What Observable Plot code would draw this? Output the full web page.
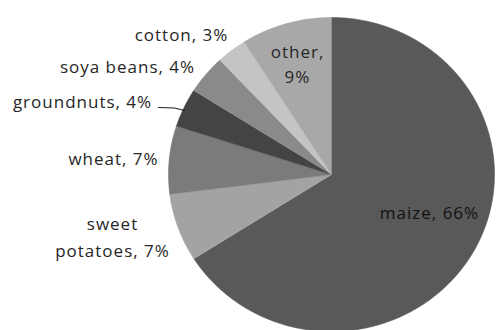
<!DOCTYPE html>
<html>
<head>
<meta charset="utf-8">
<script src="https://cdn.jsdelivr.net/npm/d3@7"></script>
<script src="https://cdn.jsdelivr.net/npm/@observablehq/plot@0.6"></script>
<style>
  html, body { margin: 0; padding: 0; background: #fff; }
  #chart svg text { letter-spacing: 1px; }
</style>
</head>
<body>
<div id="chart"></div>
<script>
// ---- data ----
const crops = ["maize", "sweet potatoes", "wheat", "groundnuts", "soya beans", "cotton", "other"];
const shares = [66, 7, 7, 4, 4, 3, 9];
const sliceColors = ["#595959", "#a3a3a3", "#7b7b7b", "#444444", "#8a8a8a", "#c4c4c4", "#a8a8a8"];

// ---- label annotations (pixel layout) ----
const labelLines = [["maize, 66%"], ["sweet", "potatoes, 7%"], ["wheat, 7%"], ["groundnuts, 4%"], ["soya beans, 4%"], ["cotton, 3%"], ["other,", "9%"]];
const labelX = [429, 112, 113, 82, 127, 181, 297];
const labelY = [213, 224, 159, 102, 67, 35, 52];
const lineGap = [25, 27, 25, 25, 25, 25, 25];

// pie layout
const W = 497, H = 330;
const cx = 331, cy = 174, rx = 163, ry = 157;

const total = d3.sum(shares);
const pts = [];
let acc = 0;
crops.forEach((name, i) => {
  const a0 = acc / total * 2 * Math.PI;
  acc += shares[i];
  const a1 = acc / total * 2 * Math.PI;
  pts.push({name, x: cx, y: cy});
  const n = Math.max(2, Math.ceil((a1 - a0) / (Math.PI / 180)));
  for (let k = 0; k <= n; k++) {
    const a = a0 + (a1 - a0) * k / n;
    pts.push({name, x: cx + rx * Math.sin(a), y: cy - ry * Math.cos(a)});
  }
});

const labels = [];
labelLines.forEach((lines, i) => {
  lines.forEach((t, j) => labels.push({text: t, x: labelX[i], y: labelY[i] + j * lineGap[i], dark: i === 0}));
});

const leader = [{x: 158, y: 107}, {x: 174, y: 107.5}, {x: 184, y: 110}];

const marks = crops.map((name, i) =>
  Plot.line(pts.filter(d => d.name === name), {x: "x", y: "y", fill: sliceColors[i], stroke: sliceColors[i], strokeWidth: 0.6, curve: "linear"})
);
marks.push(Plot.line(leader, {x: "x", y: "y", stroke: "#222", strokeWidth: 1.2}));
marks.push(Plot.text(labels.filter(d => !d.dark), {x: "x", y: "y", text: "text", textAnchor: "middle", fill: "#262626", fontSize: 17, fontFamily: "Open Sans"}));
marks.push(Plot.text(labels.filter(d => d.dark), {x: "x", y: "y", text: "text", textAnchor: "middle", fill: "#111111", fontSize: 17, fontFamily: "Open Sans"}));

const chart = Plot.plot({
  width: W,
  height: H,
  margin: 0,
  x: {domain: [0, W], range: [0, W], axis: null},
  y: {domain: [0, H], range: [0, H], axis: null},
  style: {background: "#fff", fontFamily: "Open Sans"},
  marks
});
document.getElementById("chart").appendChild(chart);
</script>
</body>
</html>
